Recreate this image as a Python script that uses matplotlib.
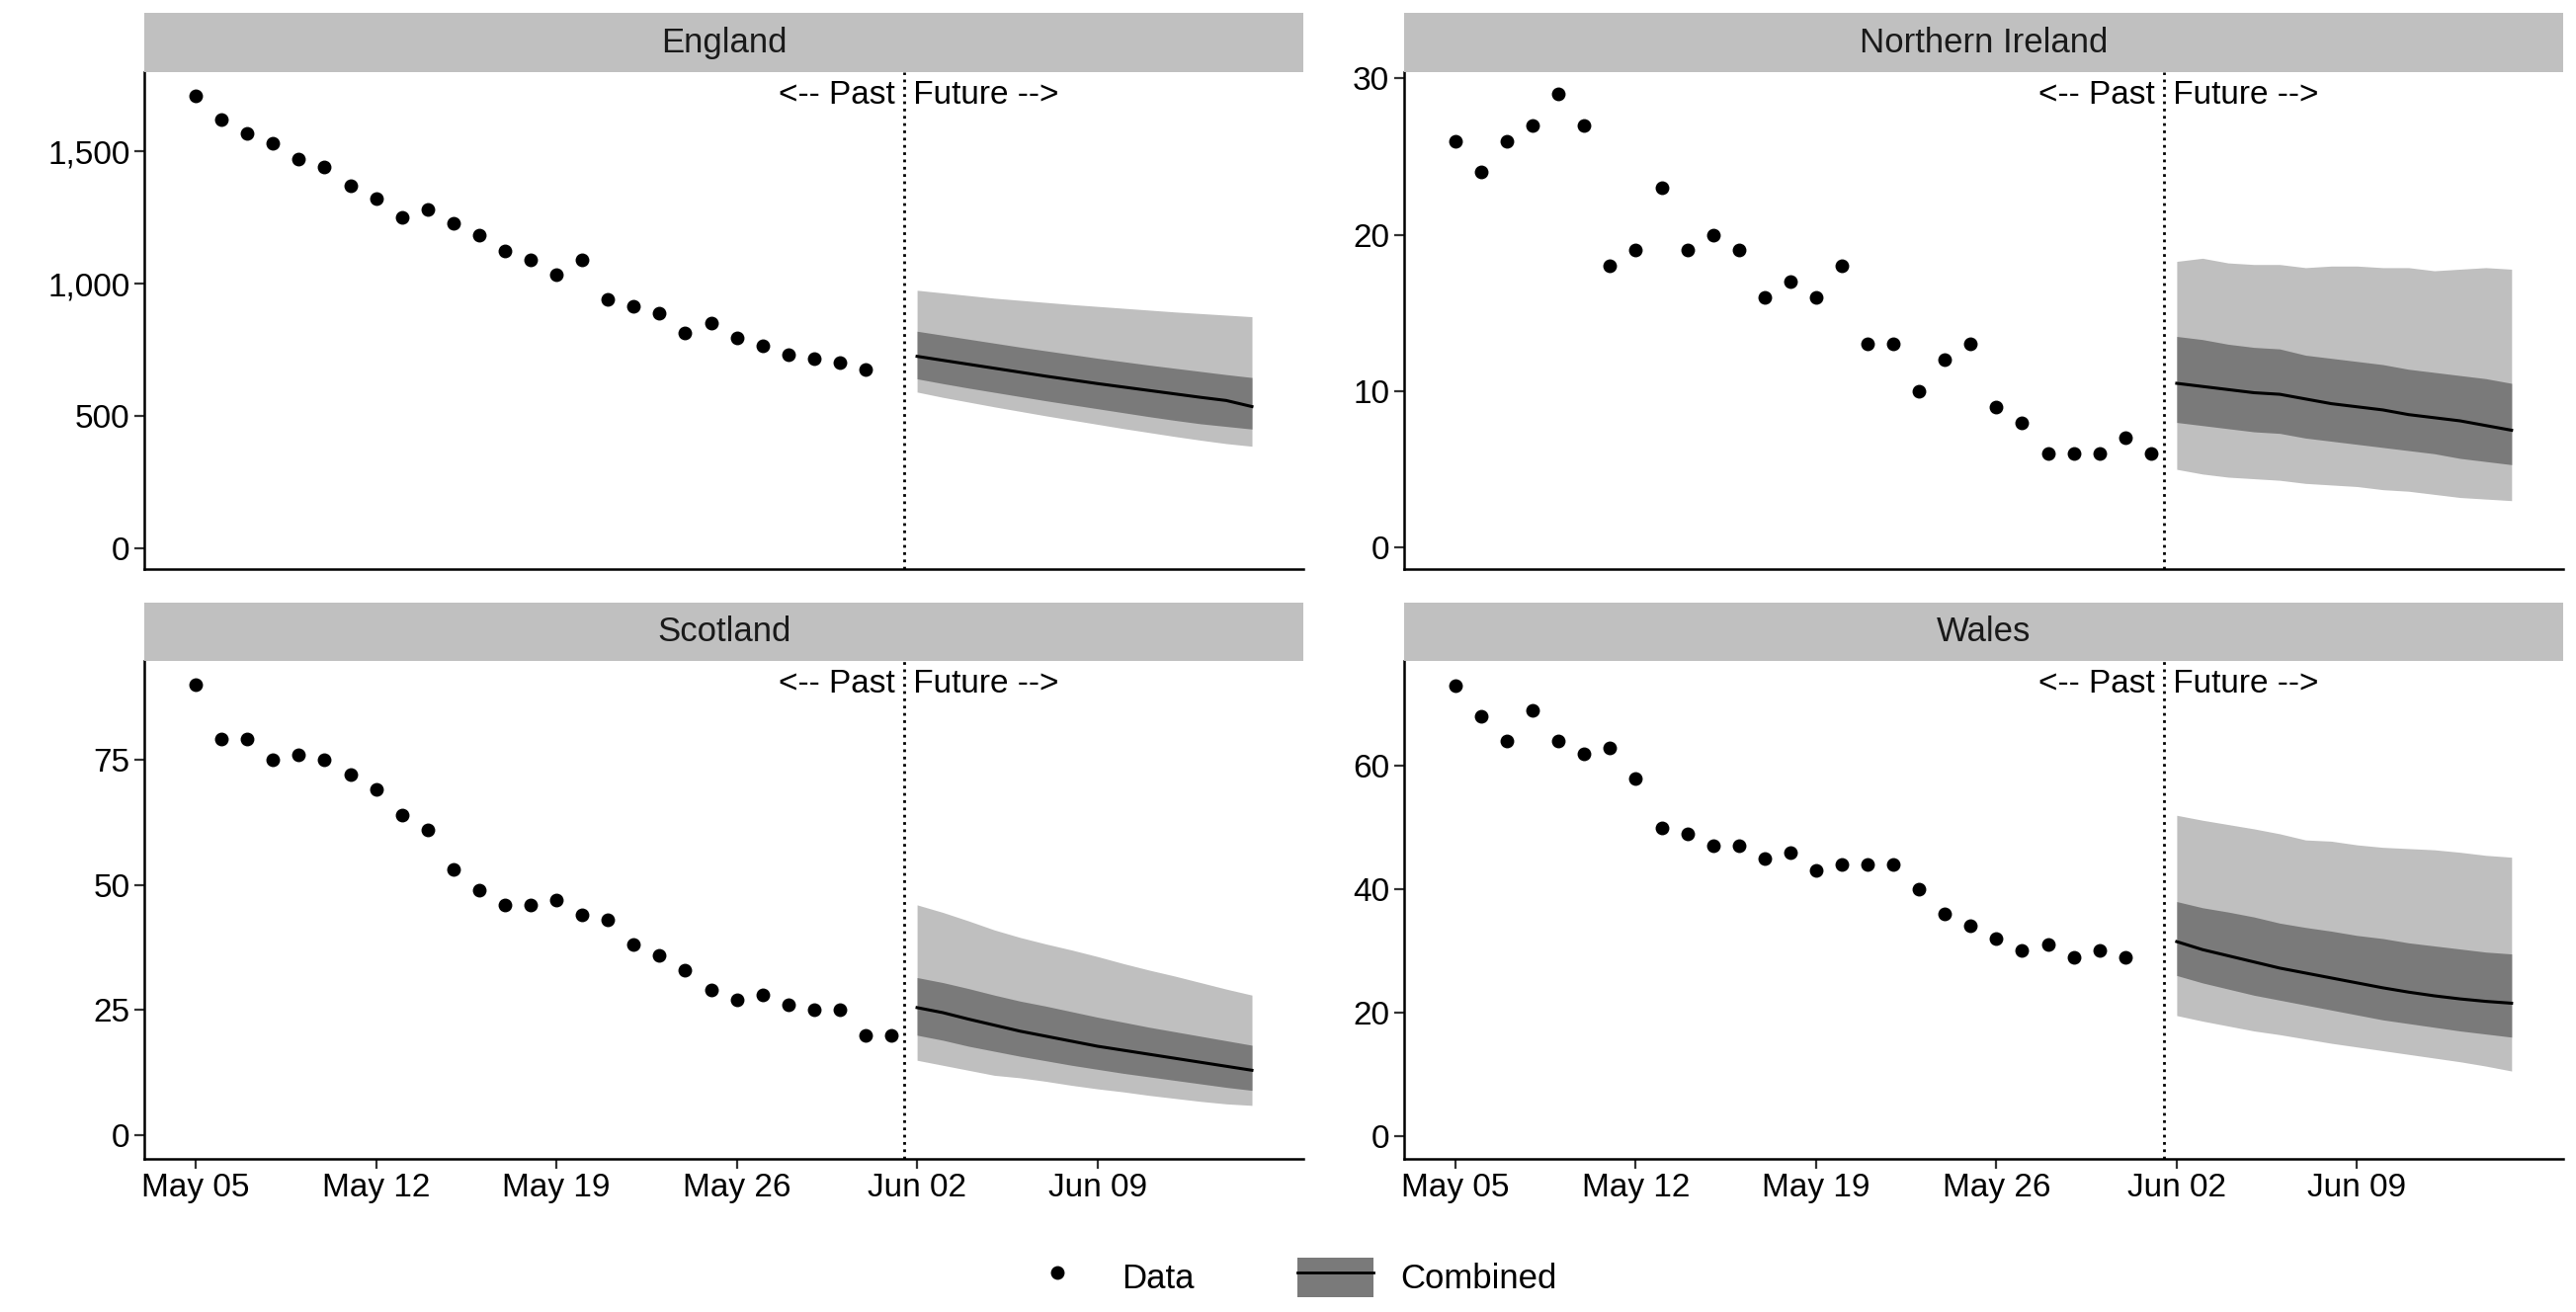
import numpy as np
import matplotlib.pyplot as plt
import matplotlib.dates as mdates
from matplotlib.patches import Patch
from matplotlib.lines import Line2D
from matplotlib.ticker import FuncFormatter

plt.rcParams['font.family'] = ['Liberation Sans', 'DejaVu Sans']

regions = ['England', 'Northern Ireland', 'Scotland', 'Wales']
data_start = np.datetime64('2020-05-05')
fc_start = np.datetime64('2020-06-02')
split_date = np.datetime64('2020-06-01T12:00')

data = {
    'England': [1710, 1620, 1570, 1530, 1470, 1440, 1370, 1320, 1250, 1280, 1230, 1185, 1125,
                1090, 1035, 1090, 940, 915, 890, 815, 850, 795, 765, 730, 715, 700, 675],
    'Northern Ireland': [26, 24, 26, 27, 29, 27, 18, 19, 23, 19, 20, 19, 16, 17, 16, 18, 13, 13,
                         10, 12, 13, 9, 8, 6, 6, 6, 7, 6],
    'Scotland': [90, 79, 79, 75, 76, 75, 72, 69, 64, 61, 53, 49, 46, 46, 47, 44, 43, 38, 36, 33,
                 29, 27, 28, 26, 25, 25, 20, 20],
    'Wales': [73, 68, 64, 69, 64, 62, 63, 58, 50, 49, 47, 47, 45, 46, 43, 44, 44, 44, 40, 36, 34,
              32, 30, 31, 29, 30, 29],
}

median = {
    'England': [725, 710, 695, 680, 665, 650, 636, 622, 609, 596, 583, 570, 558, 535],
    'Northern Ireland': [10.5, 10.3, 10.1, 9.9, 9.8, 9.5, 9.2, 9.0, 8.8, 8.5, 8.3, 8.1, 7.8, 7.5],
    'Scotland': [25.5, 24.5, 23.2, 22.0, 20.8, 19.8, 18.8, 17.8, 17.0, 16.2, 15.4, 14.6, 13.8, 13.0],
    'Wales': [31.5, 30.2, 29.2, 28.2, 27.2, 26.4, 25.6, 24.8, 24.0, 23.3, 22.7, 22.2, 21.8, 21.5],
}
inner_hi = {
    'England': [820, 805, 790, 775, 760, 746, 732, 718, 705, 692, 680, 668, 656, 645],
    'Northern Ireland': [13.5, 13.3, 13.0, 12.8, 12.7, 12.3, 12.1, 11.9, 11.7, 11.4, 11.2, 11.0, 10.8, 10.5],
    'Scotland': [31.5, 30.5, 29.3, 28.0, 26.8, 25.8, 24.7, 23.6, 22.6, 21.6, 20.7, 19.8, 18.9, 18.0],
    'Wales': [38.0, 37.0, 36.3, 35.5, 34.5, 33.8, 33.2, 32.5, 32.0, 31.3, 30.8, 30.3, 29.8, 29.5],
}
inner_lo = {
    'England': [640, 622, 605, 589, 573, 557, 542, 527, 512, 497, 483, 470, 460, 450],
    'Northern Ireland': [8.0, 7.8, 7.6, 7.4, 7.3, 7.0, 6.8, 6.6, 6.4, 6.2, 6.0, 5.7, 5.5, 5.3],
    'Scotland': [20.0, 19.0, 17.8, 16.8, 15.8, 14.9, 14.0, 13.2, 12.4, 11.7, 11.0, 10.3, 9.6, 9.0],
    'Wales': [26.0, 24.8, 23.8, 22.8, 22.0, 21.2, 20.4, 19.6, 18.8, 18.2, 17.6, 17.0, 16.5, 16.0],
}
outer_hi = {
    'England': [975, 965, 955, 945, 937, 929, 921, 914, 907, 900, 893, 887, 881, 875],
    'Northern Ireland': [18.3, 18.5, 18.2, 18.1, 18.1, 17.9, 18.0, 18.0, 17.9, 17.9, 17.7, 17.8, 17.9, 17.8],
    'Scotland': [46.0, 44.5, 42.8, 41.0, 39.5, 38.2, 37.0, 35.7, 34.3, 33.0, 31.8, 30.5, 29.2, 28.0],
    'Wales': [52.0, 51.2, 50.5, 49.8, 49.0, 48.0, 47.8, 47.2, 46.8, 46.6, 46.4, 46.0, 45.5, 45.2],
}
outer_lo = {
    'England': [590, 570, 552, 534, 517, 500, 484, 468, 452, 437, 422, 408, 395, 385],
    'Northern Ireland': [5.0, 4.7, 4.5, 4.4, 4.3, 4.1, 4.0, 3.9, 3.7, 3.6, 3.4, 3.2, 3.1, 3.0],
    'Scotland': [15.0, 14.0, 13.0, 12.0, 11.5, 10.8, 10.0, 9.3, 8.7, 8.0, 7.4, 6.8, 6.3, 6.0],
    'Wales': [19.5, 18.6, 17.8, 17.0, 16.4, 15.7, 15.0, 14.4, 13.8, 13.2, 12.6, 12.0, 11.3, 10.5],
}

ylims = {'England': (-81, 1800), 'Northern Ireland': (-1.4, 30.4),
         'Scotland': (-4.6, 94.6), 'Wales': (-3.7, 77)}
yticks = {'England': [0, 500, 1000, 1500], 'Northern Ireland': [0, 10, 20, 30],
          'Scotland': [0, 25, 50, 75], 'Wales': [0, 20, 40, 60]}
xtick_dates = ['2020-05-05', '2020-05-12', '2020-05-19', '2020-05-26', '2020-06-02', '2020-06-09']

positions = {'England': (0.056, 0.566), 'Northern Ireland': (0.545, 0.566),
             'Scotland': (0.056, 0.117), 'Wales': (0.545, 0.117)}
W, H, SH = 0.45, 0.379, 0.045

fig = plt.figure(figsize=(26.07, 13.28), dpi=100)
fs = 24
for r in regions:
    x0, y0 = positions[r]
    ax = fig.add_axes([x0, y0, W, H])
    sax = fig.add_axes([x0, y0 + H, W, SH])
    sax.set_facecolor('#c0c0c0')
    sax.set_xticks([]); sax.set_yticks([])
    for s in sax.spines.values():
        s.set_visible(False)
    sax.text(0.5, 0.5, r, ha='center', va='center', fontsize=fs + 1, color='#1a1a1a')

    d = data[r]
    dx = (data_start + np.arange(len(d))).astype(object)
    fx = (fc_start + np.arange(len(median[r]))).astype(object)
    ax.fill_between(fx, outer_lo[r], outer_hi[r], color='#bfbfbf', lw=0)
    ax.fill_between(fx, inner_lo[r], inner_hi[r], color='#7a7a7a', lw=0)
    ax.plot(fx, median[r], color='black', lw=2.2)
    ax.plot(dx, d, 'o', color='black', ms=9)
    ax.axvline(split_date.astype(object), color='black', ls=':', lw=2)
    ax.text(split_date.astype(object), 0.953, '<-- Past ', transform=ax.get_xaxis_transform(),
            ha='right', va='center', fontsize=fs)
    ax.text(split_date.astype(object), 0.953, ' Future -->', transform=ax.get_xaxis_transform(),
            ha='left', va='center', fontsize=fs)

    ax.set_xlim(np.datetime64('2020-05-03').astype(object), np.datetime64('2020-06-17').astype(object))
    ax.set_xticks([np.datetime64(t).astype(object) for t in xtick_dates])
    ax.xaxis.set_major_formatter(mdates.DateFormatter('%b %d'))
    ax.set_ylim(*ylims[r])
    ax.set_yticks(yticks[r])
    ax.yaxis.set_major_formatter(FuncFormatter(lambda v, p: f'{int(v):,}'))
    for s in ['top', 'right']:
        ax.spines[s].set_visible(False)
    for s in ['left', 'bottom']:
        ax.spines[s].set_linewidth(1.8)
    ax.tick_params(labelsize=fs, width=1.6, length=7, color='#333333')
    if r in ('England', 'Northern Ireland'):
        ax.tick_params(labelbottom=False, bottom=False)

handles = [Line2D([], [], marker='o', ls='', color='black', ms=9),
           (Patch(facecolor='#7a7a7a'), Line2D([], [], color='black', lw=2))]
fig.legend(handles, ['Data', 'Combined'], loc='lower center', ncol=2, frameon=False,
           fontsize=fs + 1, bbox_to_anchor=(0.5, -0.012), handlelength=2.2, handleheight=1.4,
           columnspacing=3)
fig.savefig('out.png', dpi=100)
